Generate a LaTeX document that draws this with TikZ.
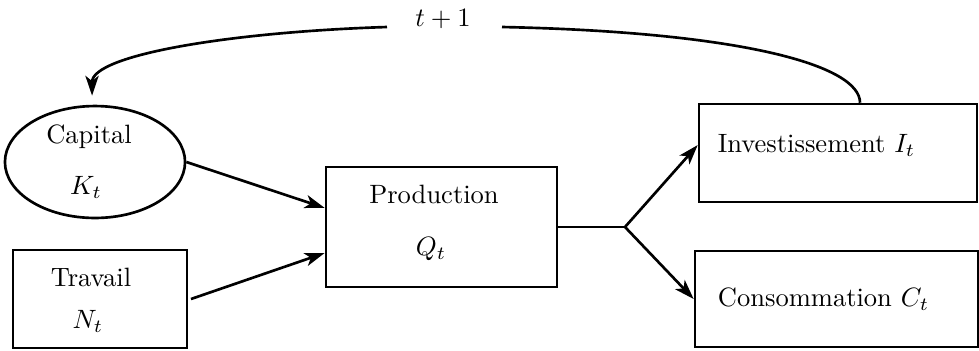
\documentclass[tikz,border=0pt]{standalone}
\usepackage{amsmath,amssymb}
\usepackage{tikz}
\usetikzlibrary{positioning,arrows.meta,shapes.geometric}

\tikzset{
  block/.style={draw, line width=1pt, inner sep=0pt},
  flow/.style={line width=1pt, -{Stealth[length=7.5pt,width=5pt,inset=2pt]}},
  plain/.style={line width=1pt}
}

\begin{document}
\begin{tikzpicture}[x=0.377pt, y=-0.377pt]
    \useasboundingbox (0,0) rectangle (979,350);

    % Inputs: capital (ellipse) and labour (box)
    \node[block, ellipse, minimum width=67.9pt, minimum height=42.2pt] (cap) at (95,162) {};
    \node (capname) at (89,137) {Capital};
    \node (capvar) at (86,187) {$K_t$};

    \node[block, rectangle, minimum width=65.6pt, minimum height=36.9pt] (trav) at (100,299) {};
    \node (travname) at (91,277) {Travail};
    \node (travvar) at (88,321) {$N_t$};

    % Production
    \node[block, rectangle, minimum width=87.1pt, minimum height=45.2pt] (prod) at (441.5,227) {};
    \node (prodname) at (434,194) {Production};
    \node (prodvar) at (431,249) {$Q_t$};

    % Uses of output
    \node[block, rectangle, minimum width=104.8pt, minimum height=36.9pt] (inv) at (838,153) {};
    \node (invname) at (816.5,145) {Investissement $I_t$};

    \node[block, rectangle, minimum width=106.7pt, minimum height=36.2pt] (cons) at (836.5,299) {};
    \node (consname) at (823.5,299) {Consommation $C_t$};

    % Arrows into production
    \draw[flow] (cap.east) -- ([yshift=7.2pt]prod.west);
    \draw[flow] ([xshift=1pt]trav.east) -- ([yshift=-9.8pt]prod.west);

    % Split of output
    \coordinate (split) at (625,227);
    \draw[plain] (prod.east) -- (split);
    \draw[flow] (split) -- ([yshift=3pt]inv.west);
    \draw[flow] (split) -- (cons.west);

    % Feedback: investment becomes next period's capital
    \node (lag) at (443,19) {$t+1$};
    \coordinate (gapR) at (502,27);
    \coordinate (gapL) at (387,27);
    \draw[plain] ([xshift=8.3pt]inv.north) .. controls (860,65) and (740,32) .. (gapR);
    \draw[flow, shorten >=3.4pt] (gapL) .. controls (230,32) and (92,55) .. ([xshift=-1.1pt]cap.north);
\end{tikzpicture}
\end{document}
